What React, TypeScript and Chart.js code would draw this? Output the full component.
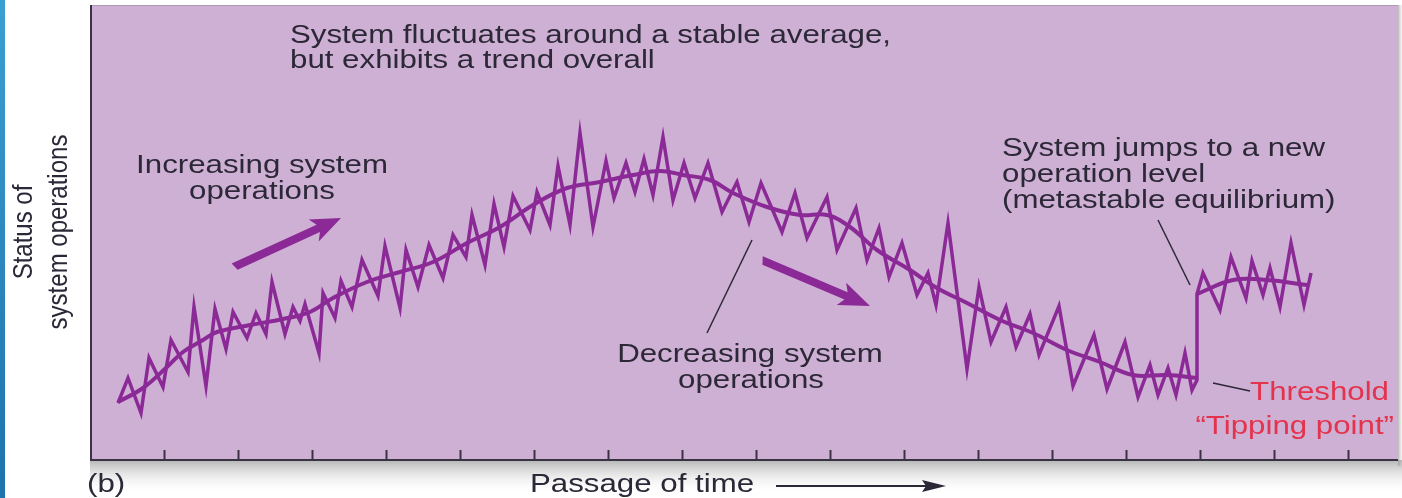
import React, { useEffect, useRef } from "react";
import { Chart, registerables } from "chart.js";

Chart.register(...registerables);

// Passage of time (arbitrary units) and status of system operations (arbitrary units)
const jaggedTime = [
  28, 38, 51, 59, 73, 81, 98, 104, 116, 125, 136, 143, 157, 166, 176, 182, 195, 203, 210, 215,
  229, 233, 245, 251, 262, 272, 288, 295, 310, 316, 328, 339, 353, 363, 376, 382, 395, 404, 414, 423,
  440, 447, 460, 468, 480, 490, 503, 516, 524, 536, 545, 554, 563, 573, 583, 594, 605, 618, 632, 647,
  659, 671, 692, 705, 717, 737, 747, 766, 777, 789, 799, 812, 827, 838, 846, 858, 877, 889, 901, 916,
  926, 940, 949, 969, 983, 1004, 1017, 1035, 1048, 1060, 1068, 1078, 1086, 1095, 1102, 1107, 1107, 1113, 1130, 1141,
  1156, 1162, 1173, 1180, 1190, 1201, 1214, 1221,
];
const jaggedStatus = [
  57, 82, 47, 102, 73, 120, 88, 153, 74, 151, 111, 148, 122, 147, 126, 178, 126, 153, 139, 156,
  107, 167, 142, 179, 153, 200, 164, 214, 152, 210, 173, 215, 182, 225, 203, 245, 195, 256, 213, 264,
  230, 268, 235, 294, 235, 327, 233, 299, 262, 297, 268, 301, 265, 323, 260, 297, 262, 297, 248, 278,
  238, 277, 228, 267, 222, 263, 210, 252, 200, 232, 183, 217, 165, 187, 155, 237, 91, 173, 118, 153,
  113, 146, 105, 154, 74, 125, 71, 118, 63, 95, 65, 92, 65, 107, 70, 80, 166, 187, 150, 203,
  162, 199, 165, 192, 153, 217, 155, 187,
];

const trendTime = [
  28, 53, 77, 93, 113, 127, 160, 193, 220, 243, 277, 310, 343, 377, 410, 443, 477, 510, 543, 570,
  593, 620, 643, 677, 710, 737, 760, 787, 820, 847, 877, 910, 943, 977, 1010, 1043, 1077, 1107,
];
const trendStatus = [
  58, 72, 93, 108, 120, 128, 135, 141, 148, 162, 178, 188, 198, 217, 233, 255, 272, 278, 285, 289,
  285, 280, 267, 253, 245, 245, 233, 210, 190, 172, 157, 140, 127, 110, 98, 85, 85, 82,
];

const newLevelTime = [1107, 1143, 1177, 1217];
const newLevelStatus = [166, 180, 180, 175];

const timeTicks = [74, 148, 222, 296, 370, 444, 518, 592, 666, 740, 814, 888, 962, 1036, 1110, 1184, 1258];

const PURPLE = "#8b2997";
const INK = "#2c2838";
const RED = "#e3334d";
const FONT = "'Liberation Sans', Arial, Helvetica, sans-serif";
const STRETCH = 1.25;

function drawArrow(
  ctx: CanvasRenderingContext2D,
  x1: number, y1: number, x2: number, y2: number,
  shaft: number, headLen: number, headHalf: number, color: string
) {
  const dx = x2 - x1, dy = y2 - y1;
  const len = Math.hypot(dx, dy);
  const ux = dx / len, uy = dy / len;
  const nx = -uy, ny = ux;
  const bx = x2 - ux * headLen, by = y2 - uy * headLen;
  ctx.save();
  ctx.fillStyle = color;
  ctx.beginPath();
  ctx.moveTo(x1 + nx * shaft / 2, y1 + ny * shaft / 2);
  ctx.lineTo(bx + nx * shaft / 2 + ux * 2, by + ny * shaft / 2 + uy * 2);
  ctx.lineTo(bx + nx * headHalf - ux * 3, by + ny * headHalf - uy * 3);
  ctx.lineTo(x2, y2);
  ctx.lineTo(bx - nx * headHalf - ux * 3, by - ny * headHalf - uy * 3);
  ctx.lineTo(bx - nx * shaft / 2 + ux * 2, by - ny * shaft / 2 + uy * 2);
  ctx.lineTo(x1 - nx * shaft / 2 - ux * 3, y1 - ny * shaft / 2 - uy * 3);
  ctx.closePath();
  ctx.fill();
  ctx.restore();
}

function line(ctx: CanvasRenderingContext2D, x1: number, y1: number, x2: number, y2: number, w: number, c: string) {
  ctx.save();
  ctx.strokeStyle = c;
  ctx.lineWidth = w;
  ctx.beginPath();
  ctx.moveTo(x1, y1);
  ctx.lineTo(x2, y2);
  ctx.stroke();
  ctx.restore();
}

function text(ctx: CanvasRenderingContext2D, s: string, x: number, y: number, align: CanvasTextAlign) {
  ctx.save();
  ctx.translate(x, y);
  ctx.scale(STRETCH, 1);
  ctx.textAlign = align;
  ctx.fillText(s, 0, 0);
  ctx.restore();
}

const decor = {
  id: "decor",
  beforeDraw(chart: any) {
    const { ctx, chartArea: a, width, height } = chart;
    ctx.save();
    ctx.fillStyle = "#ffffff";
    ctx.fillRect(0, 0, width, height);
    const g = ctx.createLinearGradient(0, 0, 0, height);
    g.addColorStop(0, "#3a9fd2");
    g.addColorStop(1, "#1e72ad");
    ctx.fillStyle = g;
    ctx.fillRect(0, 0, 5, height);
    const sg = ctx.createLinearGradient(0, a.bottom, 0, a.bottom + 34);
    sg.addColorStop(0, "rgba(120,120,120,0.55)");
    sg.addColorStop(1, "rgba(255,255,255,0)");
    ctx.fillStyle = sg;
    ctx.fillRect(a.left, a.bottom, width - a.left, 34);
    const rg = ctx.createLinearGradient(a.right, 0, width, 0);
    rg.addColorStop(0, "rgba(140,140,140,0.6)");
    rg.addColorStop(1, "rgba(200,200,200,0.2)");
    ctx.fillStyle = rg;
    ctx.fillRect(a.right, a.top, width - a.right, a.bottom - a.top + 6);
    ctx.fillStyle = "#ceb0d4";
    ctx.fillRect(a.left, a.top, a.right - a.left, a.bottom - a.top);
    ctx.strokeStyle = "rgba(150,140,150,0.6)";
    ctx.lineWidth = 1;
    ctx.beginPath();
    ctx.moveTo(a.left, a.top + 0.5);
    ctx.lineTo(a.right, a.top + 0.5);
    ctx.stroke();
    ctx.restore();
  },
  afterDatasetsDraw(chart: any) {
    const { ctx, chartArea: a } = chart;
    const xs = chart.scales.x;
    ctx.save();
    line(ctx, a.left + 1, a.top, a.left + 1, a.bottom + 1, 2, "#3a3343");
    line(ctx, a.left, a.bottom, a.right, a.bottom, 2, "#3a3343");
    for (const t of timeTicks) {
      const px = Math.round(xs.getPixelForValue(t)) + 0.5;
      line(ctx, px, a.bottom - 10, px, a.bottom, 2, "#3a3343");
    }

    ctx.fillStyle = INK;
    ctx.textBaseline = "alphabetic";
    ctx.font = `25px ${FONT}`;
    text(ctx, "System fluctuates around a stable average,", 290, 43, "left");
    text(ctx, "but exhibits a trend overall", 290, 68, "left");

    text(ctx, "Increasing system", 262, 173, "center");
    text(ctx, "operations", 262, 199, "center");
    text(ctx, "Decreasing system", 750, 362, "center");
    text(ctx, "operations", 751, 388, "center");

    text(ctx, "System jumps to a new", 1002, 156, "left");
    text(ctx, "operation level", 1002, 182, "left");
    text(ctx, "(metastable equilibrium)", 1002, 208, "left");

    ctx.fillStyle = RED;
    text(ctx, "Threshold", 1389, 400, "right");
    text(ctx, "\u201CTipping point\u201D", 1394, 434, "right");

    line(ctx, 707, 333, 752, 240, 1.5, "#2c2838");
    line(ctx, 1158, 220, 1190, 285, 1.5, "#2c2838");
    line(ctx, 1213, 383, 1250, 391, 1.5, "#2c2838");

    drawArrow(ctx, 236, 266, 341, 218, 8, 27, 12, PURPLE);
    drawArrow(ctx, 764, 261, 870, 306, 8, 28, 12, PURPLE);

    ctx.fillStyle = INK;
    ctx.font = `25px ${FONT}`;
    text(ctx, "(b)", 87, 492, "left");
    text(ctx, "Passage of time", 530, 492, "left");
    line(ctx, 776, 486, 930, 486, 1.8, "#2c2838");
    ctx.fillStyle = "#2c2838";
    ctx.beginPath();
    ctx.moveTo(946, 486);
    ctx.lineTo(922, 480);
    ctx.lineTo(926, 486);
    ctx.lineTo(922, 492);
    ctx.closePath();
    ctx.fill();

    // y axis title
    ctx.fillStyle = INK;
    ctx.font = `24px ${FONT}`;
    const yTitle: [string, number][] = [["Status of", 32], ["system operations", 67]];
    for (const [s, bx] of yTitle) {
      ctx.save();
      ctx.translate(bx, 232);
      ctx.scale(STRETCH * 0.95, 1);
      ctx.rotate(-Math.PI / 2);
      ctx.textAlign = "center";
      ctx.fillText(s, 0, 0);
      ctx.restore();
    }

    ctx.restore();
  },
};

export default function App() {
  const ref = useRef<HTMLCanvasElement | null>(null);
  useEffect(() => {
    if (!ref.current) return;
    const jagged = jaggedTime.map((t, i) => ({ x: t, y: jaggedStatus[i] }));
    const trend = trendTime.map((t, i) => ({ x: t, y: trendStatus[i] }));
    const newLevel = newLevelTime.map((t, i) => ({ x: t, y: newLevelStatus[i] }));
    const chart = new Chart(ref.current, {
      type: "line",
      data: {
        datasets: [
          {
            label: "Fluctuations",
            data: jagged,
            borderColor: PURPLE,
            borderWidth: 3.5,
            pointRadius: 0,
            tension: 0,
            fill: false,
          },
          {
            label: "Trend",
            data: trend,
            borderColor: PURPLE,
            borderWidth: 4,
            pointRadius: 0,
            tension: 0.4,
            fill: false,
          },
          {
            label: "New level",
            data: newLevel,
            borderColor: PURPLE,
            borderWidth: 4,
            pointRadius: 0,
            tension: 0.4,
            fill: false,
          },
        ],
      },
      options: {
        responsive: false,
        animation: false,
        events: [],
        layout: { padding: { left: 90, top: 5, right: 4, bottom: 38 } },
        plugins: { legend: { display: false }, tooltip: { enabled: false } },
        scales: {
          x: { type: "linear", min: 0, max: 1308, display: false },
          y: { type: "linear", min: 0, max: 455, display: false },
        },
      },
      plugins: [decor],
    });
    return () => chart.destroy();
  }, []);
  return (
    <div style={{ position: "absolute", left: 0, top: 0, width: 1402, height: 498 }}>
      <canvas ref={ref} width={1402} height={498} style={{ display: "block" }} />
    </div>
  );
}
